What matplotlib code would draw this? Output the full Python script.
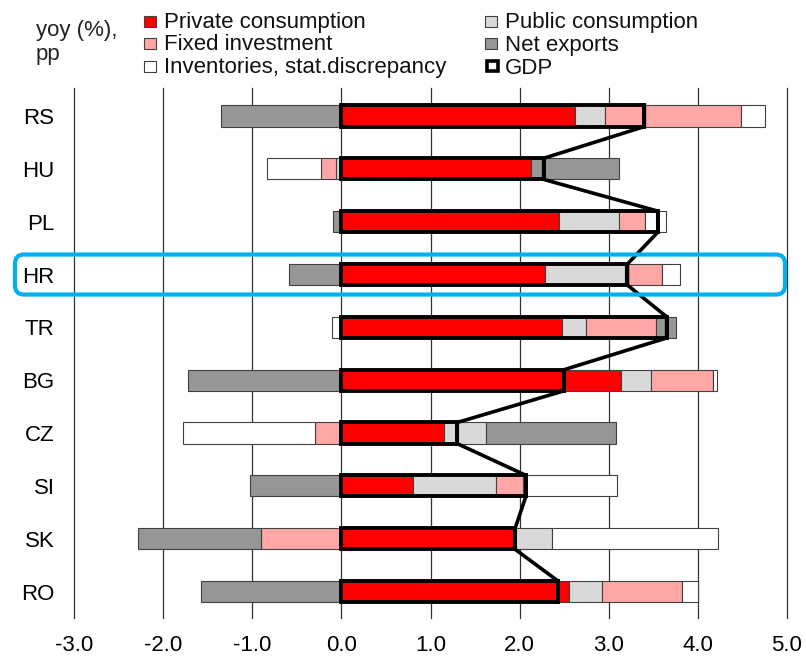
import matplotlib
matplotlib.use("Agg")
import matplotlib.pyplot as plt
import numpy as np
from matplotlib.patches import Rectangle, FancyBboxPatch
from matplotlib.transforms import IdentityTransform

plt.rcParams['font.family'] = ['Liberation Sans', 'DejaVu Sans']

countries = ["RS", "HU", "PL", "HR", "TR", "BG", "CZ", "SI", "SK", "RO"]
private_consumption = [2.62, 2.13, 2.44, 2.29, 2.47, 3.14, 1.15, 0.80, 1.96, 2.55]
public_consumption = [0.34, -0.06, 0.68, 0.89, 0.28, 0.33, 0.47, 0.93, 0.40, 0.37]
fixed_investment = [1.52, -0.17, 0.29, 0.42, 0.78, 0.70, -0.30, 0.31, -0.90, 0.90]
net_exports = [-1.35, 0.98, -0.09, -0.59, 0.22, -1.72, 1.46, -1.02, -1.38, -1.57]
inventories = [0.27, -0.61, 0.23, 0.20, -0.10, 0.05, -1.48, 1.05, 1.87, 0.18]
gdp = [3.40, 2.27, 3.55, 3.21, 3.65, 2.50, 1.30, 2.07, 1.95, 2.43]
x_ticks = [-3.0, -2.0, -1.0, 0.0, 1.0, 2.0, 3.0, 4.0, 5.0]

components = [
    ("Private consumption", private_consumption, "#FF0000"),
    ("Public consumption", public_consumption, "#D9D9D9"),
    ("Fixed investment", fixed_investment, "#FFA6A6"),
    ("Net exports", net_exports, "#969696"),
    ("Inventories, stat.discrepancy", inventories, "#FFFFFF"),
]

W, H = 806, 656
fig = plt.figure(figsize=(W / 100, H / 100), dpi=100)
ax = fig.add_axes([74 / W, 1 - 618 / H, (787 - 74) / W, (618 - 88) / H])

FS = 16
edge = "#404040"
bar_h = 0.40
y = np.arange(len(countries))

pos_base = np.zeros(len(countries))
neg_base = np.zeros(len(countries))
for name, vals, color in components:
    v = np.array(vals)
    left = np.where(v >= 0, pos_base, neg_base)
    ax.barh(y, v, left=left, height=bar_h, color=color, edgecolor=edge,
            linewidth=0.8, zorder=2)
    pos_base += np.where(v >= 0, v, 0)
    neg_base += np.where(v < 0, v, 0)

# GDP outline boxes
ax.barh(y, gdp, height=bar_h, fill=False, edgecolor="black", linewidth=2.8,
        zorder=3)

# GDP connecting line through the right edges of the boxes
line_x = np.repeat(gdp, 2)
line_y = np.column_stack([y - bar_h / 2, y + bar_h / 2]).ravel()
ax.plot(line_x, line_y, color="black", linewidth=2.6, zorder=4,
        solid_joinstyle="miter")

ax.set_xlim(-3, 5)
ax.set_ylim(len(countries) - 0.5, -0.53)
ax.set_xticks(x_ticks)
ax.set_xticklabels([f"{t:.1f}" for t in x_ticks], fontsize=FS)
ax.set_yticks(y)
ax.set_yticklabels(countries, fontsize=FS)
ax.tick_params(axis="x", length=0, pad=12.5)
ax.tick_params(axis="y", length=0, pad=14)
for s in ax.spines.values():
    s.set_visible(False)
ax.grid(axis="x", color="#333333", linewidth=0.9, zorder=0)
ax.grid(axis="y", visible=False)
ax.set_axisbelow(True)
for gl in ax.get_xgridlines():
    gl.set_clip_on(False)

# Highlight box around HR
hr = countries.index("HR")
fig.canvas.draw()
yc = ax.transData.transform((0, hr))[1]
hl = FancyBboxPatch((15, yc - 20), 770, 40,
                    boxstyle="round,pad=0,rounding_size=9",
                    transform=IdentityTransform(), fill=False,
                    edgecolor="#00B0F0", linewidth=3.0, clip_on=False,
                    zorder=10)
fig.add_artist(hl)

# Unit label
fig.text(36 / W, 1 - 35.7 / H, "yoy (%),", fontsize=FS, va="baseline",
         ha="left", color="#222222")
fig.text(36 / W, 1 - 60 / H, "pp", fontsize=FS, va="baseline", ha="left",
         color="#222222")

# Legend
def legend_entry(x_box, y_center, text, color, gdp_style=False):
    bw, bh = 12, 11
    if gdp_style:
        r = Rectangle((x_box + 1.5, H - y_center - bh / 2 + 1), bw - 1, bh - 1,
                      transform=IdentityTransform(), facecolor="white",
                      edgecolor="black", linewidth=2.6)
    else:
        r = Rectangle((x_box, H - y_center - bh / 2), bw, bh,
                      transform=IdentityTransform(), facecolor=color,
                      edgecolor=edge, linewidth=0.8)
    fig.add_artist(r)
    fig.text((x_box + 20) / W, 1 - (y_center + 7) / H, text, fontsize=FS,
             va="baseline", ha="left", color="#111111")

rows = [21, 43.5, 66.5]
col1 = [components[0], components[2], components[4]]
col2 = [components[1], components[3]]
for (name, _, color), yc_ in zip(col1, rows):
    legend_entry(144, yc_, name, color)
for (name, _, color), yc_ in zip(col2, rows):
    legend_entry(485, yc_, name, color)
legend_entry(485, rows[2], "GDP", None, gdp_style=True)

fig.savefig("out.png", dpi=100)
